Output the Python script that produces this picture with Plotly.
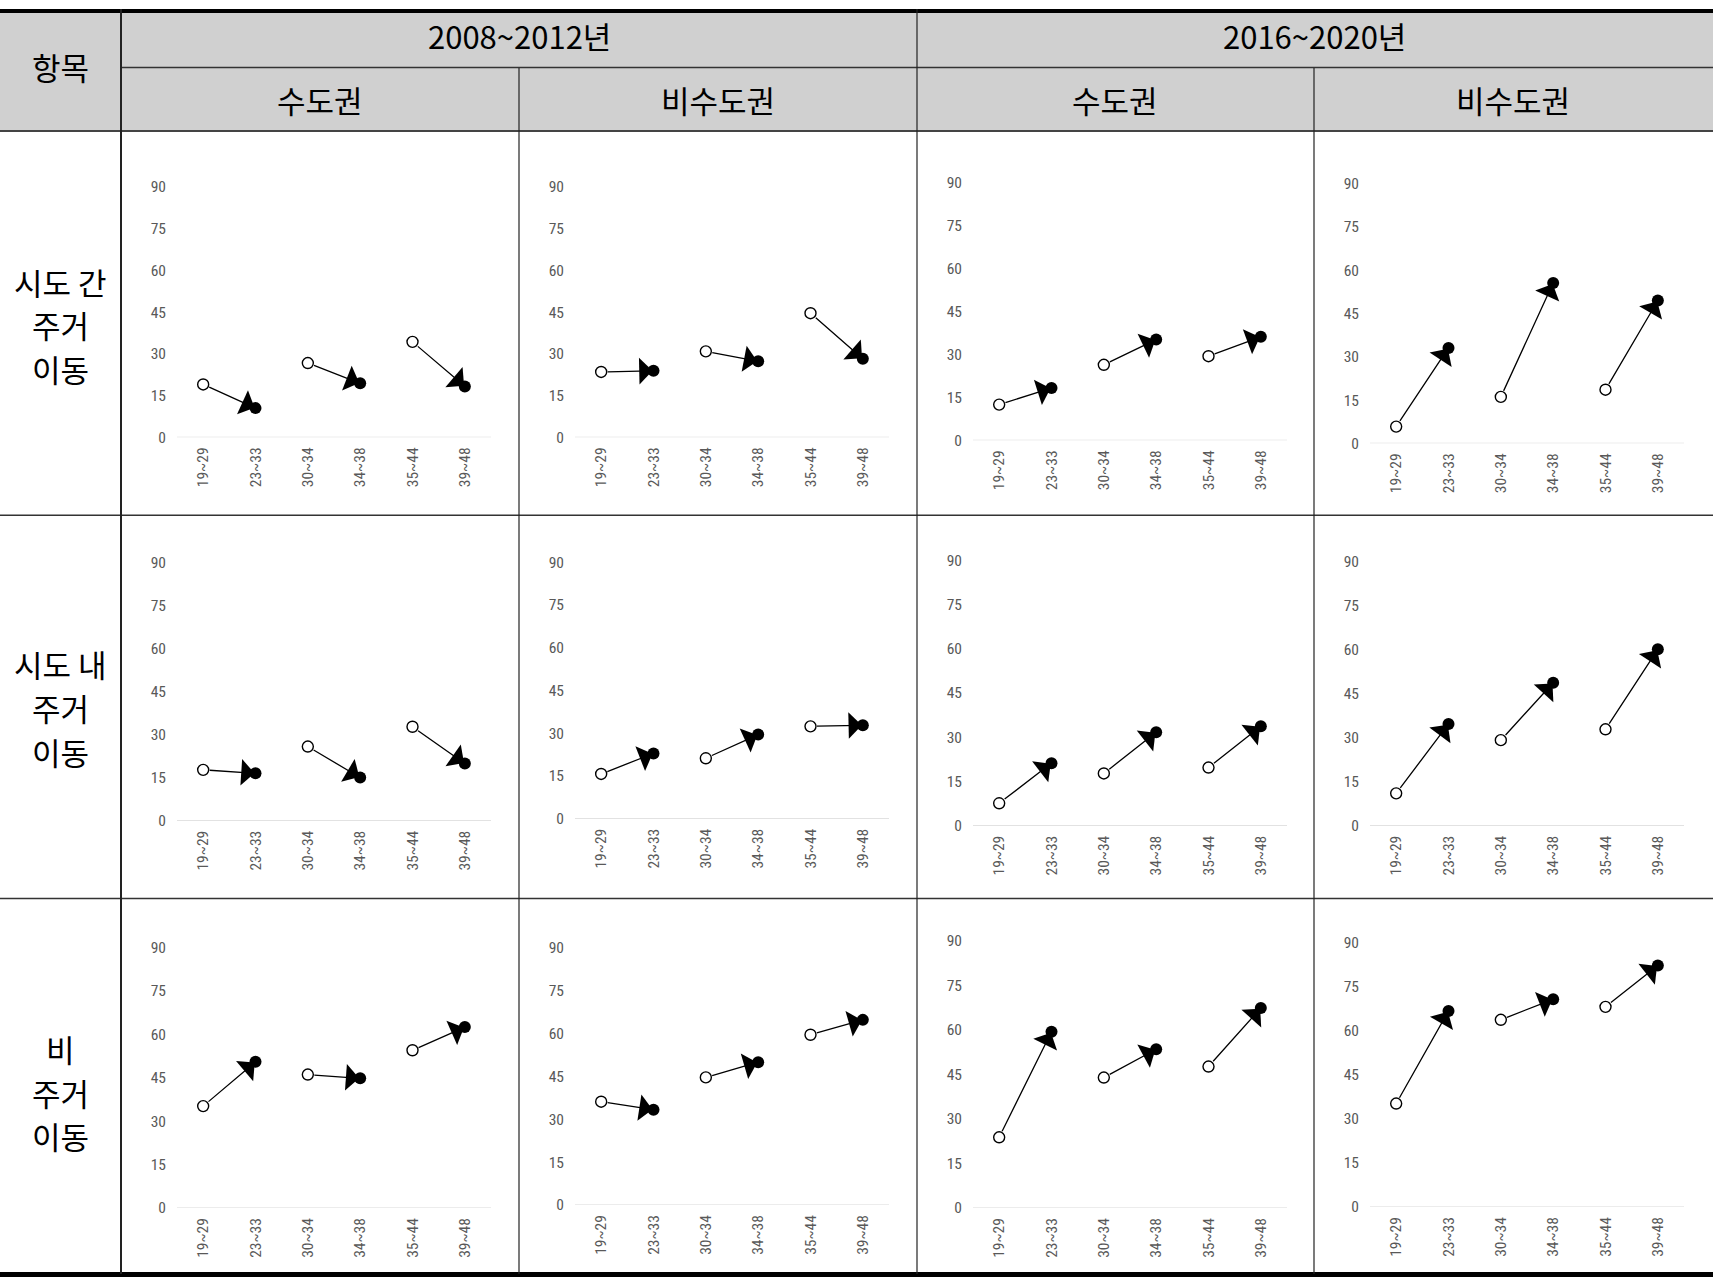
import plotly.graph_objects as go

W, H = 1713, 1286

# ---------------- data ----------------
categories = ["19~29", "23~33", "30~34", "34~38", "35~44", "39~48"]
y_ticks = [0, 15, 30, 45, 60, 75, 90]

periods = ["2008~2012년", "2016~2020년"]
regions = ["수도권", "비수도권"]
row_labels = [["시도 간", "주거", "이동"], ["시도 내", "주거", "이동"], ["비", "주거", "이동"]]
header_item = "항목"

# values per category (start = open circle, end = filled circle)
sido_gan_2008_sudo = [19.0, 10.5, 26.7, 19.4, 34.3, 18.3]
sido_gan_2008_bisudo = [23.5, 23.9, 30.9, 27.3, 44.6, 28.2]
sido_gan_2016_sudo = [12.5, 18.3, 26.4, 35.2, 29.4, 36.2]
sido_gan_2016_bisudo = [5.8, 33.1, 16.1, 55.6, 18.6, 49.5]
sido_nae_2008_sudo = [17.7, 16.5, 25.8, 15.0, 32.7, 19.9]
sido_nae_2008_bisudo = [15.7, 22.9, 21.2, 29.5, 32.4, 32.8]
sido_nae_2016_sudo = [7.6, 21.2, 17.7, 31.7, 19.7, 33.7]
sido_nae_2016_bisudo = [11.0, 34.6, 29.1, 48.6, 32.8, 60.0]
bi_2008_sudo = [35.2, 50.5, 46.1, 44.8, 54.5, 62.5]
bi_2008_bisudo = [36.1, 33.3, 44.6, 49.9, 59.5, 64.7]
bi_2016_sudo = [23.8, 59.3, 43.9, 53.4, 47.6, 67.3]
bi_2016_bisudo = [35.2, 66.7, 63.7, 70.7, 68.1, 82.2]

panels = [
    [sido_gan_2008_sudo, sido_gan_2008_bisudo, sido_gan_2016_sudo, sido_gan_2016_bisudo],
    [sido_nae_2008_sudo, sido_nae_2008_bisudo, sido_nae_2016_sudo, sido_nae_2016_bisudo],
    [bi_2008_sudo, bi_2008_bisudo, bi_2016_sudo, bi_2016_bisudo],
]

# ---------------- layout geometry (target pixels in the final picture) ----------------
col_x = [0, 121, 519, 917, 1314, 1713]
zero_px = [[437, 437, 440, 443], [821, 819, 826, 826], [1209, 1206, 1209, 1208]]
top_px = [[186, 186, 182, 183], [562, 562, 560, 561], [948, 948, 941, 943]]

# the page adds an 8px body margin above/below the figure and the capture is
# rescaled vertically; map target picture rows to figure rows accordingly
PAGE_MARGIN = 8
VSCALE = H / (H + 2 * PAGE_MARGIN)


def px(x):
    return x / W


def fig_y(y_img):
    return y_img / VSCALE - PAGE_MARGIN


def py(y_img):
    return 1 - fig_y(y_img) / H


def pyf(y_fig):
    return 1 - y_fig / H


fig = go.Figure()
layout = dict(
    width=W, height=H, margin=dict(l=0, r=0, t=0, b=0), autosize=False,
    paper_bgcolor="white", plot_bgcolor="rgba(0,0,0,0)", showlegend=False,
)
annotations = []
shapes = []

tick_font = dict(family="Liberation Sans Narrow, Roboto Condensed, Liberation Sans, sans-serif",
                 size=15.5, color="#595959")

n = 0
for r in range(3):
    for c in range(4):
        n += 1
        vals = panels[r][c]
        xs = list(range(len(categories)))
        sfx = "" if n == 1 else str(n)
        xa, ya = "x" + sfx, "y" + sfx
        left = col_x[c + 1]
        layout["xaxis" + sfx] = dict(
            domain=[px(left + 56), px(left + 370)], anchor=ya,
            range=[-0.5, 5.5], tickmode="array", tickvals=xs, ticktext=categories,
            tickangle=-90, tickfont=tick_font, showgrid=False, zeroline=False,
            showline=False, ticks="", ticklabelstandoff=6, fixedrange=True,
        )
        layout["yaxis" + sfx] = dict(
            domain=[py(zero_px[r][c]), py(top_px[r][c])], anchor=xa,
            range=[0, 90], tickmode="array", tickvals=y_ticks,
            tickfont=tick_font, showgrid=False, zeroline=False, showline=False,
            ticks="", ticklabelstandoff=10, fixedrange=True,
        )
        # baseline at 0
        shapes.append(dict(type="line", xref=xa + " domain", yref=ya, x0=0, x1=1, y0=0, y1=0,
                           line=dict(color="#d9d9d9", width=1.2), layer="below"))
        # arrows from start to end
        for i in range(0, len(vals), 2):
            annotations.append(dict(
                x=xs[i + 1], y=vals[i + 1], ax=xs[i], ay=vals[i],
                xref=xa, yref=ya, axref=xa, ayref=ya, text="", showarrow=True,
                arrowhead=1, arrowsize=3.4, arrowwidth=1.3, arrowcolor="black",
                standoff=1, startstandoff=5,
            ))
        fig.add_trace(go.Scatter(
            x=xs[0::2], y=vals[0::2], xaxis=xa, yaxis=ya, mode="markers", cliponaxis=False,
            marker=dict(symbol="circle", size=11, color="white", line=dict(color="black", width=1.4)),
            hoverinfo="skip"))
        fig.add_trace(go.Scatter(
            x=xs[1::2], y=vals[1::2], xaxis=xa, yaxis=ya, mode="markers", cliponaxis=False,
            marker=dict(symbol="circle", size=12, color="black", line=dict(width=0)),
            hoverinfo="skip"))

# ---------------- table structure ----------------
shapes.append(dict(type="rect", xref="paper", yref="paper", x0=0, x1=1, y0=py(130), y1=1,
                   fillcolor="#d0d0d0", line=dict(width=0), layer="below"))
shapes.append(dict(type="line", xref="paper", yref="paper", x0=0, x1=1, y0=pyf(2), y1=pyf(2),
                   line=dict(color="black", width=4)))
shapes.append(dict(type="line", xref="paper", yref="paper", x0=0, x1=1, y0=pyf(1283.5), y1=pyf(1283.5),
                   line=dict(color="black", width=5)))
shapes.append(dict(type="line", xref="paper", yref="paper", x0=px(121), x1=1, y0=py(66.5), y1=py(66.5),
                   line=dict(color="#333333", width=1.5)))
shapes.append(dict(type="line", xref="paper", yref="paper", x0=0, x1=1, y0=py(130), y1=py(130),
                   line=dict(color="#444444", width=2)))
for yy in (515, 899):
    shapes.append(dict(type="line", xref="paper", yref="paper", x0=0, x1=1, y0=py(yy), y1=py(yy),
                       line=dict(color="#333333", width=1.5)))
shapes.append(dict(type="line", xref="paper", yref="paper", x0=px(121), x1=px(121), y0=pyf(1283), y1=1,
                   line=dict(color="#222222", width=2)))
shapes.append(dict(type="line", xref="paper", yref="paper", x0=px(917), x1=px(917), y0=pyf(1283), y1=1,
                   line=dict(color="#222222", width=1.2)))
for xx in (519, 1314):
    shapes.append(dict(type="line", xref="paper", yref="paper", x0=px(xx), x1=px(xx), y0=pyf(1283),
                       y1=py(67), line=dict(color="#222222", width=1.2)))

# ---------------- texts ----------------
kfont = dict(family="Noto Sans CJK KR, Noto Sans, sans-serif", size=31, color="black")


def add_text(t, x, y, size=31):
    f = dict(kfont)
    f["size"] = size
    annotations.append(dict(text=t, x=px(x), y=py(y), xref="paper", yref="paper", showarrow=False,
                            xanchor="center", yanchor="middle", font=f))


add_text(header_item, 60, 66)
add_text(periods[0], 519, 34)
add_text(periods[1], 1314, 34)
for k, cx in enumerate([320, 718, 1115, 1513]):
    add_text(regions[k % 2], cx, 99)

row_line_y = [[281, 324, 368], [664, 708, 752], [1049, 1093, 1136]]
for r in range(3):
    for j, t in enumerate(row_labels[r]):
        add_text(t, 60, row_line_y[r][j])

layout["annotations"] = annotations
layout["shapes"] = shapes
fig.update_layout(**layout)
fig.write_html("out.html")
